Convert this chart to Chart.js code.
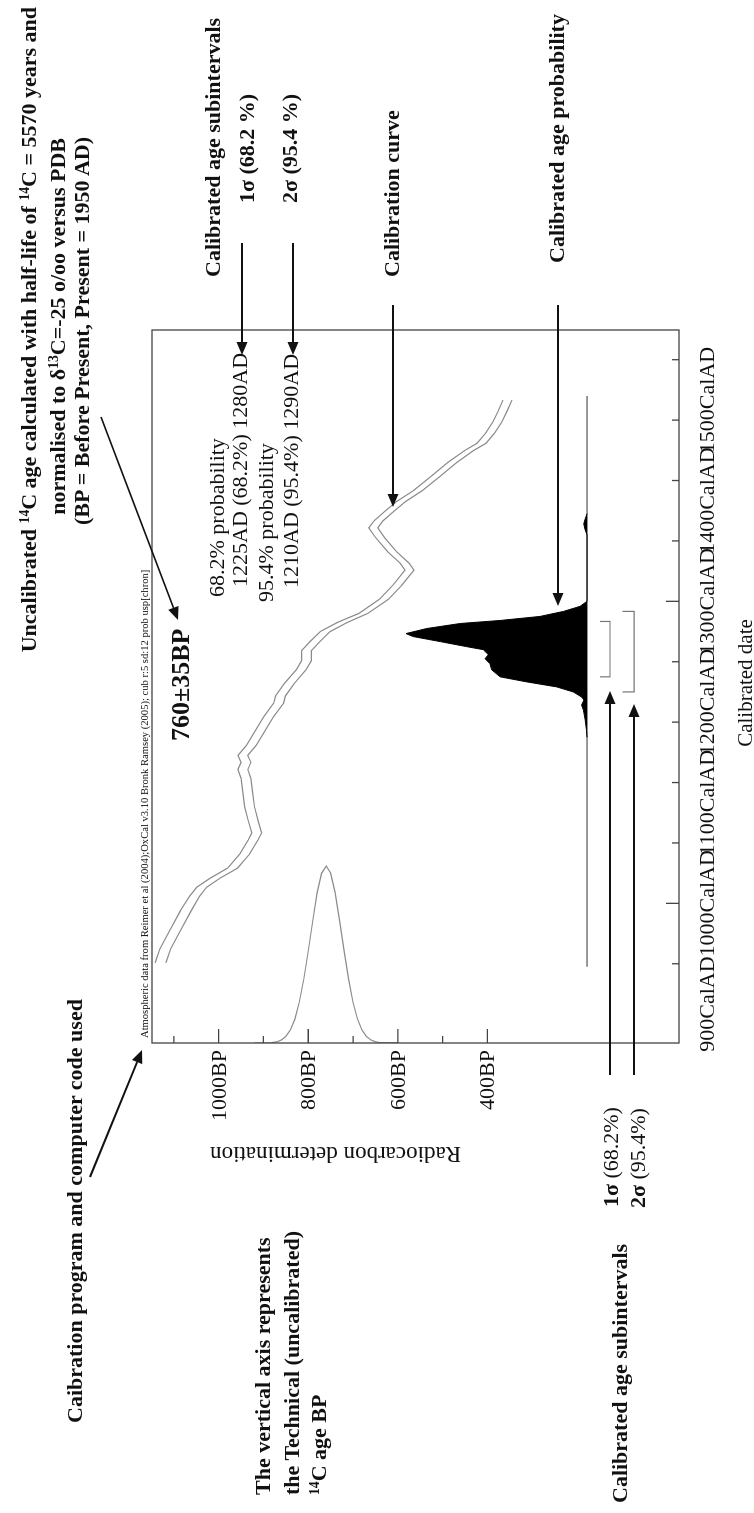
<!DOCTYPE html>
<html>
<head>
<meta charset="utf-8">
<title>Radiocarbon calibration plot</title>
<script src="https://cdn.jsdelivr.net/npm/chart.js"></script>
<style>
  html, body { margin: 0; padding: 0; background: #fff; }
  body { width: 754px; height: 1513px; overflow: hidden; position: relative; }
  /* the figure is laid out landscape, then turned a quarter turn to the left */
  #sheet { position: absolute; left: 0; top: 0; width: 1513px; height: 754px;
           transform-origin: 0 0; transform: translateY(1513px) rotate(-90deg);
           font-family: "Liberation Serif", "DejaVu Serif", serif; color: #111; }
  #sheet canvas, #sheet svg { position: absolute; left: 0; top: 0; }
  .t { position: absolute; white-space: nowrap; }
  .s { font-size: 0.62em; position: relative; top: -0.55em; }
</style>
</head>
<body>
<div id="sheet">
  <canvas id="chart" width="1513" height="754"></canvas>
  <svg id="marks" width="1513" height="754"></svg>
</div>
<script>
"use strict";
// calibration curve (centre of the 1 sigma band), years AD vs 14C age BP
const calYears = [941, 955, 974, 993, 1007, 1016, 1025, 1035, 1049, 1063,
                  1070, 1082, 1096, 1110, 1124, 1133, 1140, 1147, 1157, 1171,
                  1185, 1199, 1206, 1218, 1232, 1241, 1251, 1260, 1270, 1279,
                  1288, 1302, 1316, 1331, 1338, 1349, 1363, 1373, 1380, 1389,
                  1399, 1410, 1424, 1438, 1450, 1457, 1467, 1478, 1488, 1500];
const calBP = [1130, 1119, 1096, 1073, 1054, 1038, 1008, 969, 942, 923,
               915, 923, 931, 935, 939, 946, 939, 946, 927, 908,
               889, 866, 862, 843, 816, 804, 804, 785, 762, 724,
               677, 631, 601, 574, 585, 612, 639, 655, 643, 620,
               593, 555, 516, 478, 440, 413, 394, 378, 367, 355];
const calErr = [12, 12, 12, 12, 11, 11, 11, 11, 11, 11,
                11, 11, 11, 11, 11, 11, 11, 11, 11, 11,
                11, 11, 11, 11, 11, 11, 11, 11, 11, 11,
                10, 10, 10, 10, 10, 10, 10, 10, 10, 10,
                10, 10, 10, 10, 10, 10, 10, 10, 10, 10];
const calRange = [937, 1504];

// radiocarbon determination 760 +/- 35 BP (relative probability)
const detBP = [600, 630, 640, 650, 660, 670, 680, 690, 700, 710, 720, 730, 740, 750, 760,
               770, 780, 790, 800, 810, 820, 830, 840, 850, 860, 870, 880, 890, 920];
const detProb = [0, 0.001, 0.003, 0.007, 0.017, 0.037, 0.073, 0.135, 0.23, 0.36, 0.52, 0.69, 0.85, 0.96, 1,
                 0.96, 0.85, 0.69, 0.52, 0.36, 0.23, 0.135, 0.073, 0.037, 0.017, 0.007, 0.003, 0.001, 0];

// calibrated age probability (relative)
const probYears = [1165, 1172, 1182, 1192, 1197, 1202, 1205, 1210, 1215, 1220,
                   1225, 1232, 1238, 1243, 1247, 1252, 1255, 1260, 1265, 1268,
                   1273, 1278, 1281, 1285, 1290, 1295, 1300, 1366, 1372, 1377,
                   1382, 1387];
const probVals = [0, 0.003, 0.01, 0.02, 0.03, 0.017, 0.03, 0.076, 0.167, 0.333,
                  0.48, 0.527, 0.536, 0.563, 0.545, 0.573, 0.665, 0.81, 0.96, 1,
                  0.885, 0.70, 0.48, 0.26, 0.13, 0.039, 0, 0, 0.012, 0.018,
                  0.01, 0];

// calibrated age subintervals
const sub68 = [1225, 1280];
const sub95 = [1210, 1290];

const yearTicks = [900, 1000, 1100, 1200, 1300, 1400, 1500];
const yearLabels = ['900CalAD', '1000CalAD', '1100CalAD', '1200CalAD', '1300CalAD', '1400CalAD', '1500CalAD'];
const bpTicks = [1000, 800, 600, 400];
const bpLabels = ['1000BP', '800BP', '600BP', '400BP'];

const grey = '#8a8a8a';

function line(points, extra) {
  return Object.assign({
    data: points, showLine: true, pointRadius: 0, borderColor: grey,
    borderWidth: 1.2, fill: false, tension: 0, xAxisID: 'x', yAxisID: 'y'
  }, extra || {});
}

function bracket(range, bar, tip) {
  return [{x: range[0], y: tip}, {x: range[0], y: bar}, {x: range[1], y: bar}, {x: range[1], y: tip}];
}

const datasets = [
  line(calYears.map((x, i) => ({x: x, y: calBP[i] + calErr[i]}))),
  line(calYears.map((x, i) => ({x: x, y: calBP[i] - calErr[i]}))),
  line(detBP.map((b, i) => ({x: detProb[i], y: b})), {xAxisID: 'xp'}),
  line(probYears.map((x, i) => ({x: x, y: probVals[i]})),
       {yAxisID: 'yp', borderColor: '#000', borderWidth: 1, backgroundColor: '#000', fill: 'origin'}),
  line([{x: calRange[0], y: 0}, {x: calRange[1], y: 0}], {yAxisID: 'yp', borderColor: '#333', borderWidth: 1}),
  line(bracket(sub68, -0.127, -0.072), {yAxisID: 'yp', borderColor: '#777'}),
  line(bracket(sub95, -0.26, -0.196), {yAxisID: 'yp', borderColor: '#777'})
];

// frame, inward ticks and tick labels, placed through the chart's scales
const frameAndTicks = {
  id: 'frameAndTicks',
  afterDatasetsDraw(chart) {
    const ctx = chart.ctx, a = chart.chartArea;
    const xs = chart.scales.x, ys = chart.scales.y;
    ctx.save();
    ctx.strokeStyle = '#444';
    ctx.lineWidth = 1.3;
    ctx.strokeRect(a.left, a.top, a.right - a.left, a.bottom - a.top);
    ctx.beginPath();
    xs.ticks.forEach(t => {
      if (t.value % 20 !== 0) return;
      const p = xs.getPixelForValue(t.value);
      const len = t.value % 100 === 0 ? 13 : 7;
      ctx.moveTo(p, a.bottom);
      ctx.lineTo(p, a.bottom - len);
    });
    ys.ticks.forEach(t => {
      if (t.value % 100 !== 0 || t.value < 400 || t.value > 1100) return;
      const p = ys.getPixelForValue(t.value);
      const len = t.value % 200 === 0 ? 14 : 7;
      ctx.moveTo(a.left, p);
      ctx.lineTo(a.left + len, p);
    });
    ctx.stroke();

    ctx.fillStyle = '#111';
    ctx.font = '22px "Liberation Serif"';
    ctx.textAlign = 'center';
    yearTicks.forEach((v, i) => ctx.fillText(yearLabels[i], xs.getPixelForValue(v), a.bottom + 35));
    ctx.textAlign = 'right';
    bpTicks.forEach((v, i) => ctx.fillText(bpLabels[i], a.left - 7, ys.getPixelForValue(v) + 7));
    ctx.restore();
  }
};

new Chart(document.getElementById('chart'), {
  type: 'scatter',
  data: {datasets: datasets},
  options: {
    responsive: false,
    animation: false,
    devicePixelRatio: 1,
    layout: {padding: {left: 470, right: 330, top: 152, bottom: 75}},
    plugins: {legend: {display: false}, tooltip: {enabled: false}},
    scales: {
      x: {type: 'linear', position: 'bottom', min: 861.3, max: 1569.5, display: false,
          ticks: {stepSize: 20, maxTicksLimit: 1000}},
      y: {type: 'linear', position: 'left', min: -27.9, max: 1148.9, display: false,
          ticks: {stepSize: 100, maxTicksLimit: 1000}},
      xp: {type: 'linear', axis: 'x', position: 'bottom', min: 0, max: 4.03, display: false},
      yp: {type: 'linear', axis: 'y', position: 'left', min: -0.508, max: 2.403, display: false}
    }
  },
  plugins: [frameAndTicks]
});

// ---- annotations of the figure ----
const sheet = document.getElementById('sheet');
function note(html, u, v, size, bold, align) {
  const el = document.createElement('div');
  el.className = 't';
  el.innerHTML = html;
  el.style.fontSize = size + 'px';
  el.style.lineHeight = size + 'px';
  el.style.fontWeight = bold ? 'bold' : 'normal';
  el.style.top = (v - size / 2) + 'px';
  el.style.left = u + 'px';
  if (align === 'right') el.style.transform = 'translateX(-100%)';
  if (align === 'center') el.style.transform = 'translateX(-50%)';
  sheet.appendChild(el);
  return el;
}

const sup = n => '<span class="s">' + n + '</span>';
note('Uncalibrated ' + sup(14) + 'C age calculated with half-life of ' + sup(14) + 'C = 5570 years and', 1506, 29, 22, true, 'right');
note('normalised to δ' + sup(13) + 'C=-25 o/oo versus PDB', 1375, 58, 22, true, 'right');
note('(BP = Before Present, Present = 1950 AD)', 1376, 82, 22, true, 'right');
note('Calibrated age subintervals', 1236, 213, 22, true);
note('1σ (68.2 %)', 1310, 247, 22, true);
note('2σ (95.4 %)', 1310, 290, 22, true);
note('Calibration curve', 1236, 392, 22, true);
note('Calibrated age probability', 1250, 557, 22, true);
note('68.2% probability', 916, 217, 22, false);
note('1225AD (68.2%) 1280AD', 926, 240, 22, false);
note('95.4% probability', 911, 266, 22, false);
note('1210AD (95.4%) 1290AD', 925, 291, 22, false);
note('760±35BP', 772, 181, 26, true);
note('Caibration program and computer code used', 90, 75, 22, true);
note('The vertical axis represents', 18, 263, 22, true);
note('the Technical (uncalibrated)', 18, 292, 22, true);
note(sup(14) + 'C age BP', 18, 319, 22, true);
note('<b>1σ</b> (68.2%)', 306, 611, 22, false);
note('<b>2σ</b> (95.4%)', 305, 638, 22, false);
note('Calibrated age subintervals', 10, 620, 22, true);
note('Calibrated date', 830, 745, 21, false, 'center');

const yTitle = note('Radiocarbon determination', 358, 335, 23, false);
yTitle.style.transform = 'translate(-50%, 0) rotate(-90deg)';

const credit = note('Atmospheric data from Reimer et al (2004);OxCal v3.10 Bronk Ramsey (2005); cub r:5 sd:12 prob usp[chron]', 475, 144, 9, false);
credit.style.fontSize = (9 * 468 / credit.offsetWidth) + 'px';

// arrows
const svg = document.getElementById('marks');
const NS = 'http://www.w3.org/2000/svg';
function arrow(x1, y1, x2, y2, w) {
  const ang = Math.atan2(y2 - y1, x2 - x1), c = Math.cos(ang), s = Math.sin(ang);
  const L = 13, W = 5.5;
  const bx = x2 - c * L, by = y2 - s * L;
  const ln = document.createElementNS(NS, 'line');
  ln.setAttribute('x1', x1); ln.setAttribute('y1', y1);
  ln.setAttribute('x2', bx); ln.setAttribute('y2', by);
  ln.setAttribute('stroke', '#111'); ln.setAttribute('stroke-width', w);
  svg.appendChild(ln);
  const head = document.createElementNS(NS, 'polygon');
  head.setAttribute('points', [x2, y2, bx - s * W, by + c * W, bx + s * W, by - c * W].join(' '));
  head.setAttribute('fill', '#111');
  svg.appendChild(head);
}
arrow(1096, 101, 893, 178, 1.6);
arrow(1270, 242, 1158, 242, 2);
arrow(1270, 293, 1158, 293, 2);
arrow(1208, 393, 1006, 393, 2);
arrow(1208, 558, 907, 558, 2);
arrow(336, 90, 463, 142, 2);
arrow(438, 610, 822, 610, 2);
arrow(438, 634, 809, 634, 2);
</script>
</body>
</html>
